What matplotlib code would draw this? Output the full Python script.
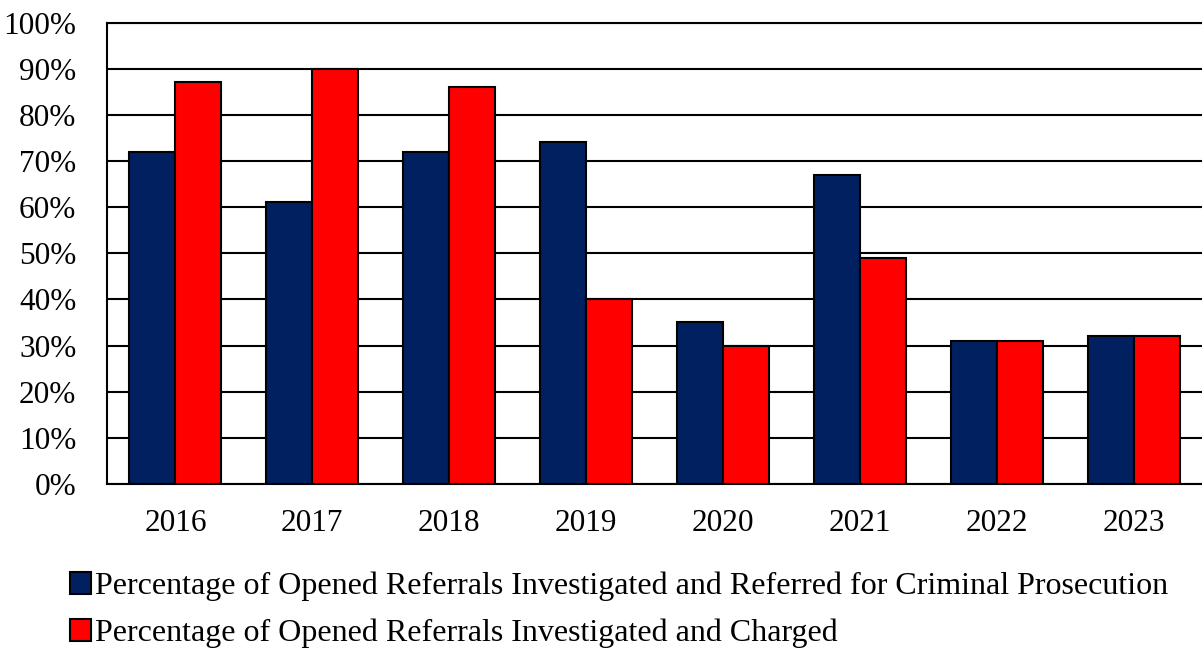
import numpy as np
import matplotlib
matplotlib.use("Agg")
import matplotlib.pyplot as plt
from matplotlib.ticker import PercentFormatter

years = ['2016', '2017', '2018', '2019', '2020', '2021', '2022', '2023']
referred = [72, 61, 72, 74, 35, 67, 31, 32]
charged = [87, 90, 86, 40, 30, 49, 31, 32]
labels = ['Percentage of Opened Referrals Investigated and Referred for Criminal Prosecution',
          'Percentage of Opened Referrals Investigated and Charged']

plt.rcParams['font.family'] = ['Liberation Serif', 'DejaVu Serif']

fig = plt.figure(figsize=(12.02, 6.49), dpi=100)
ax = fig.add_axes([107 / 1202, 1 - 484 / 649, 1 - 107 / 1202, (484 - 22.5) / 649])

x = np.arange(len(years))
w = 0.336
ax.bar(x - w / 2, referred, w, color='#002060', edgecolor='black', linewidth=1.5,
       label=labels[0], zorder=3)
ax.bar(x + w / 2, charged, w, color='#FF0000', edgecolor='black', linewidth=1.5,
       label=labels[1], zorder=3)

ax.set_xlim(-0.5, len(years) - 0.5)
ax.set_ylim(0, 100)
ax.set_yticks(range(0, 101, 10))
ax.yaxis.set_major_formatter(PercentFormatter(decimals=0))
ax.set_xticks(x)
ax.set_xticklabels(years)
ax.tick_params(length=0, labelsize=22.5)
ax.tick_params(axis='x', pad=18)
ax.tick_params(axis='y', pad=22)
ax.grid(axis='y', color='black', linewidth=1.5, zorder=0)
ax.spines['right'].set_visible(False)
for s in ['left', 'bottom', 'top']:
    ax.spines[s].set_linewidth(1.5)
    ax.spines[s].set_color('black')

fig.legend(loc='upper left', bbox_to_anchor=(57 / 1202, 1 - 559 / 649), frameon=False,
           fontsize=23, handlelength=0.65, handleheight=0.65, handletextpad=0.15,
           labelspacing=0.55, borderaxespad=0)

fig.savefig('out.png', dpi=100)
